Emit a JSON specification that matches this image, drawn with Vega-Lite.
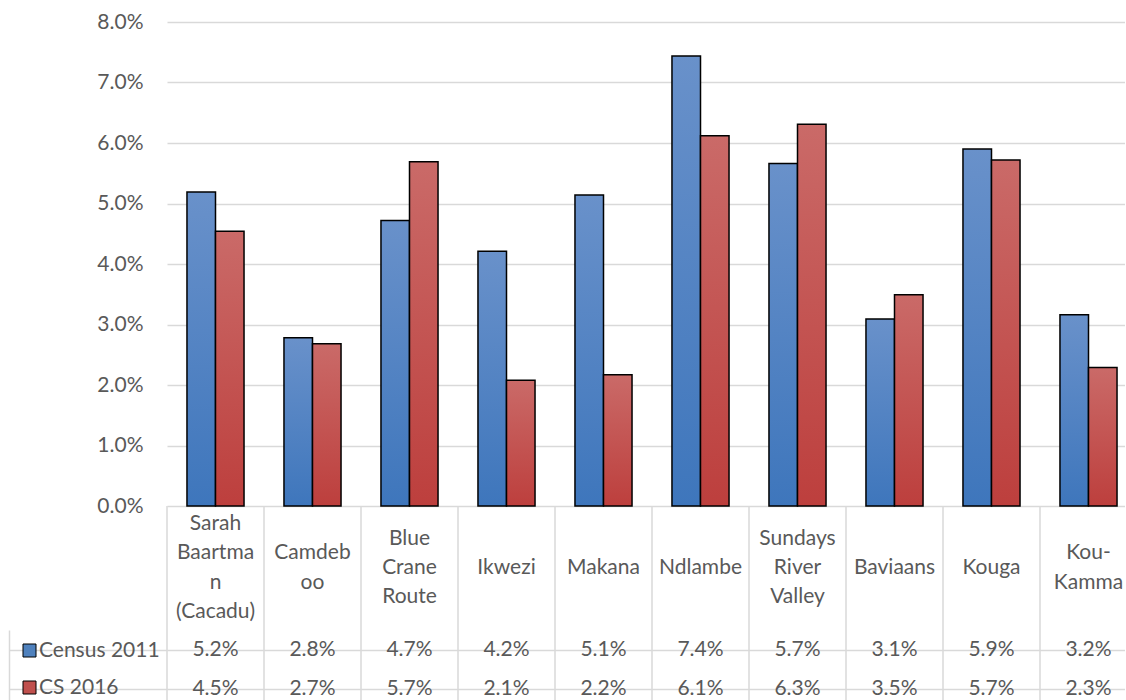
{
  "$schema": "https://vega.github.io/schema/vega-lite/v6.json",
  "background": "white",
  "padding": {"left": 9, "top": 11, "right": 0, "bottom": 0},
  "columns": 2,
  "spacing": 0,
  "bounds": "flush",
  "resolve": {"scale": {"color": "independent"}},
  "config": {
    "view": {"stroke": null},
    "font": "Lato",
    "text": {"font": "Lato", "fontSize": 21, "fill": "#595959"}
  },
  "datasets": {
    "rates": [
      {"municipality": "Sarah Baartman (Cacadu)", "series": "Census 2011", "share": 0.0519},
      {"municipality": "Sarah Baartman (Cacadu)", "series": "CS 2016", "share": 0.0454},
      {"municipality": "Camdeboo", "series": "Census 2011", "share": 0.0278},
      {"municipality": "Camdeboo", "series": "CS 2016", "share": 0.0268},
      {"municipality": "Blue Crane Route", "series": "Census 2011", "share": 0.0472},
      {"municipality": "Blue Crane Route", "series": "CS 2016", "share": 0.0569},
      {"municipality": "Ikwezi", "series": "Census 2011", "share": 0.0421},
      {"municipality": "Ikwezi", "series": "CS 2016", "share": 0.0208},
      {"municipality": "Makana", "series": "Census 2011", "share": 0.0514},
      {"municipality": "Makana", "series": "CS 2016", "share": 0.0217},
      {"municipality": "Ndlambe", "series": "Census 2011", "share": 0.0744},
      {"municipality": "Ndlambe", "series": "CS 2016", "share": 0.0612},
      {"municipality": "Sundays River Valley", "series": "Census 2011", "share": 0.0566},
      {"municipality": "Sundays River Valley", "series": "CS 2016", "share": 0.0631},
      {"municipality": "Baviaans", "series": "Census 2011", "share": 0.0309},
      {"municipality": "Baviaans", "series": "CS 2016", "share": 0.0349},
      {"municipality": "Kouga", "series": "Census 2011", "share": 0.0590},
      {"municipality": "Kouga", "series": "CS 2016", "share": 0.0572},
      {"municipality": "Kou-Kamma", "series": "Census 2011", "share": 0.0316},
      {"municipality": "Kou-Kamma", "series": "CS 2016", "share": 0.0229}
    ],
    "municipalities": [
      {"municipality": "Sarah Baartman (Cacadu)", "label": ["Sarah", "Baartma", "n", "(Cacadu)"]},
      {"municipality": "Camdeboo", "label": ["Camdeb", "oo"]},
      {"municipality": "Blue Crane Route", "label": ["Blue", "Crane", "Route"]},
      {"municipality": "Ikwezi", "label": ["Ikwezi"]},
      {"municipality": "Makana", "label": ["Makana"]},
      {"municipality": "Ndlambe", "label": ["Ndlambe"]},
      {"municipality": "Sundays River Valley", "label": ["Sundays", "River", "Valley"]},
      {"municipality": "Baviaans", "label": ["Baviaans"]},
      {"municipality": "Kouga", "label": ["Kouga"]},
      {"municipality": "Kou-Kamma", "label": ["Kou-", "Kamma"]}
    ],
    "seriesNames": [
      {"series": "Census 2011"},
      {"series": "CS 2016"}
    ]
  },
  "concat": [
    {
      "width": 158,
      "height": 484,
      "data": {"values": []},
      "mark": {"type": "point", "opacity": 0}
    },
    {
      "width": 958,
      "height": 484,
      "data": {"name": "rates"},
      "encoding": {
        "x": {
          "field": "municipality", "type": "nominal", "sort": null,
          "scale": {
            "domain": ["Sarah Baartman (Cacadu)", "Camdeboo", "Blue Crane Route", "Ikwezi", "Makana", "Ndlambe", "Sundays River Valley", "Baviaans", "Kouga", "Kou-Kamma"],
            "range": [0, 970], "paddingInner": 0, "paddingOuter": 0
          },
          "axis": null
        },
        "xOffset": {
          "field": "series", "type": "nominal",
          "scale": {"domain": ["Census 2011", "CS 2016"], "paddingInner": 0, "paddingOuter": 0.7}
        },
        "y": {
          "field": "share", "type": "quantitative",
          "scale": {"domain": [0, 0.08], "nice": false},
          "axis": {
            "title": null,
            "values": [0, 0.01, 0.02, 0.03, 0.04, 0.05, 0.06, 0.07, 0.08],
            "format": ".1%",
            "domain": false,
            "ticks": false,
            "labelPadding": 24,
            "labelFont": "Lato",
            "labelFontSize": 21,
            "labelColor": "#595959",
            "gridColor": "#d9d9d9",
            "gridWidth": 1.5
          }
        }
      },
      "layer": [
        {
          "transform": [{"filter": "datum.series === 'Census 2011'"}],
          "mark": {
            "type": "bar",
            "stroke": "#000000",
            "strokeWidth": 1.5,
            "fill": {
              "gradient": "linear", "x1": 0, "y1": 0, "x2": 0, "y2": 1,
              "stops": [{"offset": 0, "color": "#6991ca"}, {"offset": 1, "color": "#3e76bc"}]
            }
          }
        },
        {
          "transform": [{"filter": "datum.series === 'CS 2016'"}],
          "mark": {
            "type": "bar",
            "stroke": "#000000",
            "strokeWidth": 1.5,
            "fill": {
              "gradient": "linear", "x1": 0, "y1": 0, "x2": 0, "y2": 1,
              "stops": [{"offset": 0, "color": "#ca6a68"}, {"offset": 1, "color": "#bd3f3d"}]
            }
          }
        }
      ]
    },
    {
      "width": 158,
      "height": 124,
      "data": {"values": []},
      "mark": {"type": "point", "opacity": 0}
    },
    {
      "width": 958,
      "height": 124,
      "data": {"name": "municipalities"},
      "layer": [
        {
          "mark": {"type": "rule", "color": "#d9d9d9", "strokeWidth": 1.5},
          "encoding": {
            "x": {
              "field": "municipality", "type": "nominal", "sort": null, "bandPosition": 0,
              "scale": {
                "domain": ["Sarah Baartman (Cacadu)", "Camdeboo", "Blue Crane Route", "Ikwezi", "Makana", "Ndlambe", "Sundays River Valley", "Baviaans", "Kouga", "Kou-Kamma"],
                "range": [0, 970], "paddingInner": 0, "paddingOuter": 0
              },
              "axis": null
            }
          }
        },
        {
          "mark": {
            "type": "text", "baseline": "middle", "align": "center", "lineHeight": 29.3, "clip": true,
            "dy": {"expr": "-(length(datum.label) - 1) * 29.3 / 2"}
          },
          "encoding": {
            "x": {"field": "municipality", "type": "nominal", "sort": null, "axis": null},
            "text": {"field": "label"}
          }
        }
      ]
    },
    {
      "width": 158,
      "height": 70,
      "data": {"name": "seriesNames"},
      "mark": {"type": "square", "opacity": 0},
      "encoding": {
        "y": {
          "field": "series", "type": "nominal", "sort": null,
          "scale": {"domain": ["Census 2011", "CS 2016"], "range": [0, 79], "paddingInner": 0, "paddingOuter": 0},
          "axis": {
            "title": null, "labels": false, "ticks": false,
            "domain": true, "domainColor": "#d9d9d9", "domainWidth": 1.5,
            "grid": true, "bandPosition": 0, "gridColor": "#d9d9d9", "gridWidth": 1.5
          }
        },
        "color": {
          "field": "series", "type": "nominal", "sort": null,
          "scale": {"domain": ["Census 2011", "CS 2016"], "range": ["#4f81bd", "#c0504d"]},
          "legend": {
            "title": null,
            "orient": "top-left",
            "offset": 0,
            "padding": 10,
            "symbolType": "square",
            "symbolSize": 169,
            "symbolStrokeColor": "#000000",
            "symbolStrokeWidth": 1,
            "symbolOpacity": 1,
            "labelFont": "Lato",
            "labelFontSize": 21,
            "labelColor": "#595959",
            "labelOffset": -1,
            "rowPadding": 15
          }
        }
      }
    },
    {
      "width": 958,
      "height": 70,
      "layer": [
        {
          "data": {"name": "municipalities"},
          "mark": {"type": "rule", "color": "#d9d9d9", "strokeWidth": 1.5},
          "encoding": {
            "x": {
              "field": "municipality", "type": "nominal", "sort": null, "bandPosition": 0,
              "scale": {
                "domain": ["Sarah Baartman (Cacadu)", "Camdeboo", "Blue Crane Route", "Ikwezi", "Makana", "Ndlambe", "Sundays River Valley", "Baviaans", "Kouga", "Kou-Kamma"],
                "range": [0, 970], "paddingInner": 0, "paddingOuter": 0
              },
              "axis": null
            }
          }
        },
        {
          "data": {"name": "rates"},
          "mark": {"type": "text", "baseline": "middle", "align": "center", "clip": true},
          "encoding": {
            "x": {"field": "municipality", "type": "nominal", "sort": null, "axis": null},
            "y": {
              "field": "series", "type": "nominal", "sort": null,
              "scale": {"domain": ["Census 2011", "CS 2016"], "range": [0, 79], "paddingInner": 0, "paddingOuter": 0},
              "axis": {
                "title": null, "labels": false, "ticks": false, "domain": false,
                "grid": true, "bandPosition": 0, "gridColor": "#d9d9d9", "gridWidth": 1.5
              }
            },
            "text": {"field": "share", "type": "quantitative", "format": ".1%"}
          }
        }
      ]
    }
  ]
}
